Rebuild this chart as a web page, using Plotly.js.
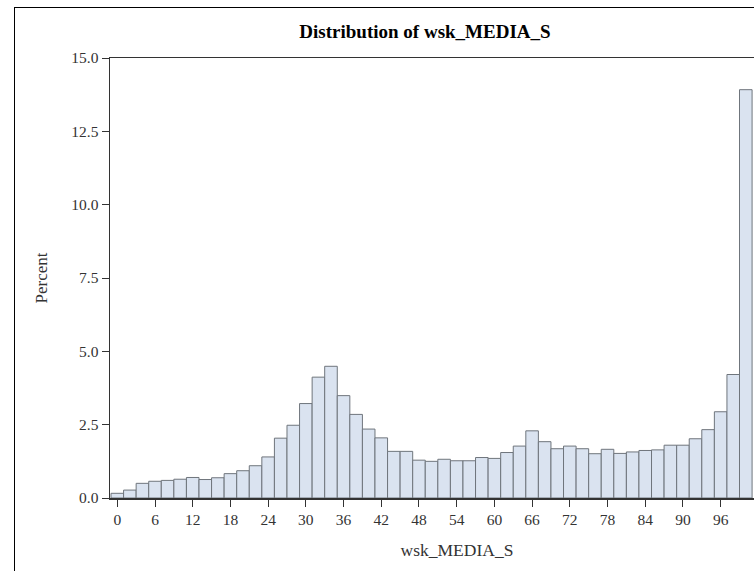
<!DOCTYPE html>
<html>
<head>
<meta charset="utf-8">
<script src="https://cdn.plot.ly/plotly-3.0.1.min.js"></script>
<style>
html,body{margin:0;padding:0;overflow:hidden;background:#fff;width:754px;height:571px;}
#frame{position:absolute;left:14px;top:7px;width:2000px;height:2000px;border:1.2px solid #000;box-sizing:border-box;pointer-events:none;}
#chart{position:absolute;left:0;top:0;width:850px;height:571px;}
</style>
</head>
<body>
<div id="frame"></div>
<div id="chart"></div>
<script>
var binMidpoints = [0,2,4,6,8,10,12,14,16,18,20,22,24,26,28,30,32,34,36,38,40,42,44,46,48,50,52,54,56,58,60,62,64,66,68,70,72,74,76,78,80,82,84,86,88,90,92,94,96,98,100];
var percentValues = [0.16,0.27,0.50,0.57,0.60,0.64,0.70,0.63,0.69,0.83,0.93,1.10,1.40,2.04,2.48,3.22,4.12,4.49,3.49,2.85,2.35,2.05,1.59,1.59,1.29,1.25,1.32,1.27,1.27,1.38,1.35,1.55,1.77,2.29,1.92,1.68,1.77,1.68,1.51,1.66,1.52,1.57,1.62,1.64,1.80,1.80,2.02,2.33,2.94,4.21,13.92];
var xTickValues = [0,6,12,18,24,30,36,42,48,54,60,66,72,78,84,90,96];
var yTickValues = [0,2.5,5,7.5,10,12.5,15];

var serif = '"Liberation Serif", "Times New Roman", serif';

var trace = {
  type: 'bar',
  x: binMidpoints,
  y: percentValues,
  width: 2,
  marker: {color: '#DAE3F0', line: {color: '#6F757C', width: 1}},
  hoverinfo: 'x+y'
};

var layout = {
  width: 850,
  height: 571,
  margin: {l: 110, r: 46, t: 57.7, b: 73.3},
  paper_bgcolor: 'rgba(0,0,0,0)',
  plot_bgcolor: '#fff',
  showlegend: false,
  bargap: 0,
  title: {
    text: '<b>Distribution of wsk_MEDIA_S</b>',
    font: {family: serif, size: 19, color: '#000'},
    xref: 'container', x: 425/850, xanchor: 'center',
    yref: 'container', y: 1 - 31/571, yanchor: 'middle'
  },
  xaxis: {
    range: [-1.16, 109.26],
    tickvals: xTickValues,
    ticktext: xTickValues.map(String),
    ticks: 'outside', ticklen: 7, tickwidth: 1, tickcolor: '#333',
    showline: true, linecolor: '#333', linewidth: 1.5, mirror: true,
    showgrid: false, zeroline: false,
    tickfont: {family: serif, size: 15.5, color: '#333'},
    title: {text: 'wsk_MEDIA_S', font: {family: serif, size: 17.5, color: '#333'}, standoff: 16}
  },
  yaxis: {
    range: [0, 15],
    tickvals: yTickValues,
    tickformat: '.1f',
    ticks: 'outside', ticklen: 7, tickwidth: 1, tickcolor: '#333',
    showline: true, linecolor: '#333', linewidth: 1.5, mirror: true,
    showgrid: false, zeroline: false,
    tickfont: {family: serif, size: 15.5, color: '#333'},
    title: {text: 'Percent', font: {family: serif, size: 17, color: '#333'}, standoff: 19}
  }
};

Plotly.newPlot('chart', [trace], layout, {displayModeBar: false, staticPlot: true});
</script>
</body>
</html>
